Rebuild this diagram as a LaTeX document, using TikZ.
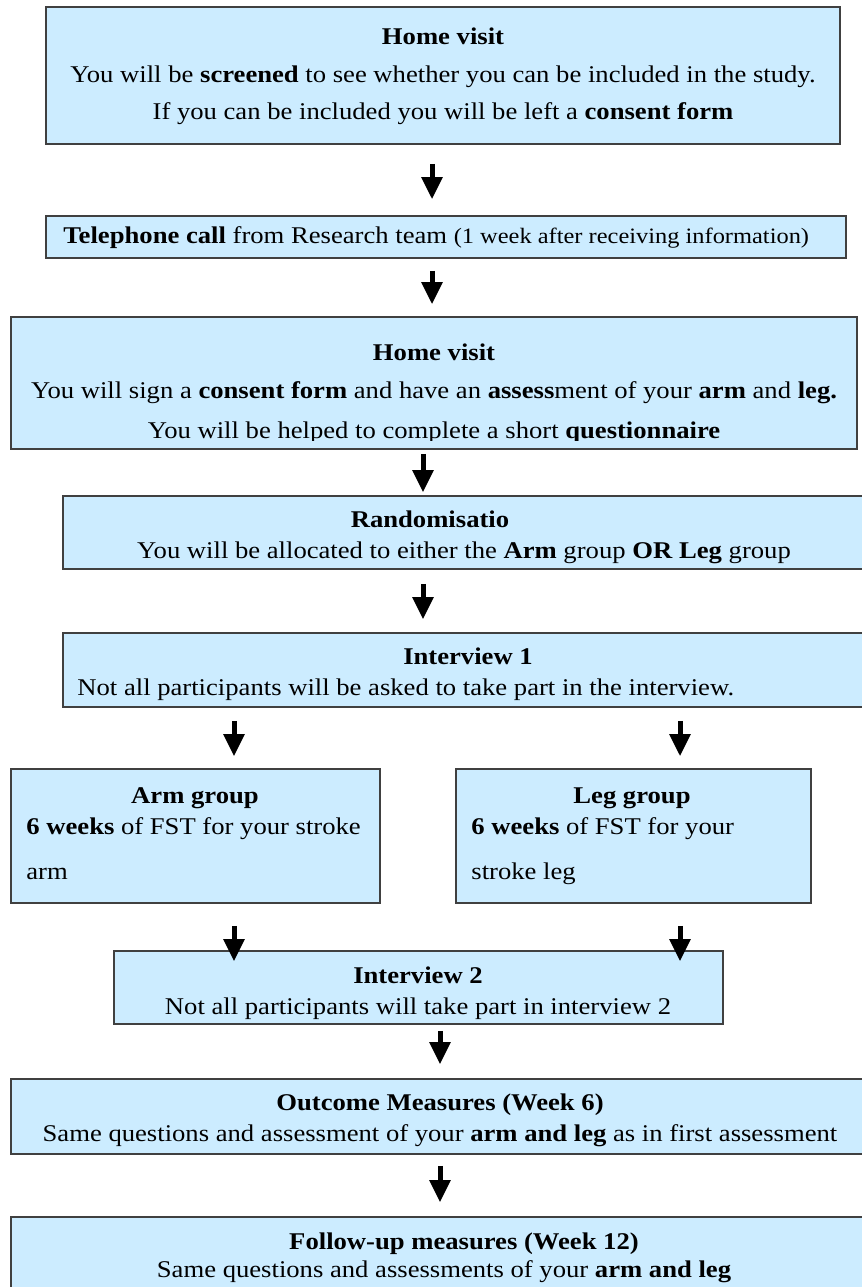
\documentclass[tikz,border=0pt]{standalone}
\usepackage{fontspec}
\setmainfont{Liberation Serif}[FakeStretch=1.11]
\usetikzlibrary{arrows.meta,fit}

\definecolor{boxblue}{RGB}{204,236,255}
\definecolor{boxline}{RGB}{64,64,64}

\begin{document}
\begin{tikzpicture}[x=0.5pt,y=-0.5pt,
  box/.style={draw=boxline,line width=0.8pt,fill=boxblue,inner sep=0pt},
  txt/.style={inner sep=0pt,anchor=base,font=\fontsize{12}{14}\selectfont},
  ltxt/.style={txt,anchor=base west},
  flow/.style={line width=2.5pt,-{Triangle[width=10pt,length=11pt]}}]
\useasboundingbox (0,0) rectangle (862,1287);
\clip (0,0) rectangle (862,1287);

% boxes
\node[box,fit={(46,7) (840,144)}] (visitA) {};
\node[box,fit={(46,216) (846,258)}] (phone) {};
\node[box,fit={(11,317) (857,449)}] (visitB) {};
\node[box,fit={(63,496) (870,569)}] (random) {};
\node[box,fit={(63,633) (870,707)}] (interA) {};
\node[box,fit={(11,769) (380,903)}] (armgrp) {};
\node[box,fit={(456,769) (811,903)}] (leggrp) {};
\node[box,fit={(114,951) (723,1024)}] (interB) {};
\node[box,fit={(11,1079) (870,1154)}] (outcome) {};
\node[box,fit={(11,1217) (870,1300)}] (followup) {};

% texts
\node[txt] (visitAhead) at (443,44) {\textbf{Home visit}};
\node[txt] (visitAone) at (443,82) {You will be \textbf{screened} to see whether you can be included in the study.};
\node[txt] (visitAtwo) at (443,119) {If you can be included you will be left a \textbf{consent form}};

\node[ltxt] (phonetxt) at (63,243) {\textbf{Telephone call} from Research team {\fontsize{11}{12}\selectfont(1 week after receiving information)}};

\node[txt] (visitBhead) at (434,360) {\textbf{Home visit}};
\node[txt] (visitBone) at (434,398) {You will sign a \textbf{consent form} and have an \textbf{assess}ment of your \textbf{arm} and \textbf{leg.}};
\begin{scope}
  \clip (11,317) rectangle (857,440);
  \node[txt] (visitBtwo) at (434,438) {You will be helped to complete a short \textbf{questionnaire}};
\end{scope}

\node[txt] (randomhead) at (430,527) {\textbf{Randomisatio}};
\node[txt] (randomone) at (464,558) {You will be allocated to either the \textbf{Arm} group \textbf{OR} \textbf{Leg} group};

\node[txt] (interAhead) at (468,664) {\textbf{Interview 1}};
\node[ltxt] (interAone) at (77,695) {Not all participants will be asked to take part in the interview.};

\node[txt] (armhead) at (195,803) {\textbf{Arm group}};
\node[ltxt] (armone) at (26,834) {\textbf{6 weeks} of FST for your stroke};
\node[ltxt] (armtwo) at (26,879) {arm};

\node[txt] (leghead) at (632,803) {\textbf{Leg group}};
\node[ltxt] (legone) at (471,834) {\textbf{6 weeks} of FST for your};
\node[ltxt] (legtwo) at (471,879) {stroke leg};

\node[txt] (interBhead) at (418,983) {\textbf{Interview 2}};
\node[txt] (interBone) at (418,1014) {Not all participants will take part in interview 2};

\node[txt] (outcomehead) at (440,1110) {\textbf{Outcome Measures (Week 6)}};
\node[txt] (outcomeone) at (440,1141) {Same questions and assessment of your \textbf{arm and leg} as in first assessment};

\node[txt] (followhead) at (464,1249) {\textbf{Follow-up measures (Week 12)}};
\node[txt] (followone) at (444,1277) {Same questions and assessments of your \textbf{arm and leg}};

% arrow columns
\coordinate (colA) at (432,0);
\coordinate (colB) at (423,0);
\coordinate (colL) at (234,0);
\coordinate (colR) at (680,0);
\coordinate (colC) at (440,0);

\draw[flow,shorten <=9.5pt,shorten >=8pt] (visitA.south -| colA) -- (phone.north -| colA);
\draw[flow,shorten <=6pt,shorten >=6pt] (phone.south -| colA) -- (visitB.north -| colA);
\draw[flow,shorten <=2pt,shorten >=1.5pt] (visitB.south -| colB) -- (random.north -| colB);
\draw[flow,shorten <=7pt,shorten >=6.5pt] (random.south -| colB) -- (interA.north -| colB);
\draw[flow,shorten <=6.5pt,shorten >=6pt] (interA.south -| colL) -- (armgrp.north -| colL);
\draw[flow,shorten <=6.5pt,shorten >=6pt] (interA.south -| colR) -- (leggrp.north -| colR);
\draw[flow,shorten <=11pt,shorten >=-5.5pt] (armgrp.south -| colL) -- (interB.north -| colL);
\draw[flow,shorten <=11pt,shorten >=-5.5pt] (leggrp.south -| colR) -- (interB.north -| colR);
\draw[flow,shorten <=3pt,shorten >=7pt] (interB.south -| colC) -- (outcome.north -| colC);
\draw[flow,shorten <=5.5pt,shorten >=7pt] (outcome.south -| colC) -- (followup.north -| colC);
\end{tikzpicture}
\end{document}
